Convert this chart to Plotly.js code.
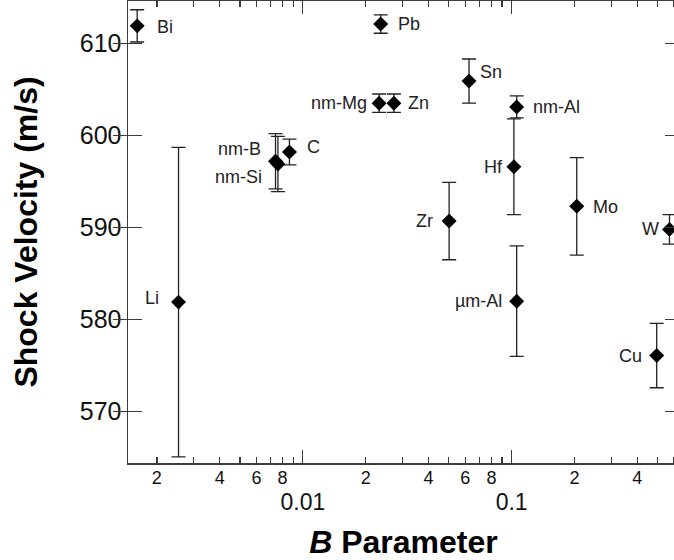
<!DOCTYPE html>
<html>
<head>
<meta charset="utf-8">
<script src="https://cdn.plot.ly/plotly-3.0.1.min.js"></script>
<style>
html,body{margin:0;padding:0;overflow:hidden;background:#fff;}
#chart{width:700px;height:560px;}
</style>
</head>
<body>
<div id="chart"></div>
<script>
// Data
const labels   = ['Bi','Li','nm-B','nm-Si','C','Pb','nm-Mg','Zn','Sn','nm-Al','Hf','Zr','Mo','W','µm-Al','Cu'];
const bParam   = [0.00161,0.00254,0.0074,0.0076,0.00863,0.0236,0.0232,0.0273,0.0625,0.1057,0.1025,0.0502,0.205,0.57,0.1057,0.495];
const velocity = [611.9,581.9,597.2,596.9,598.2,612.1,603.5,603.5,605.9,603.1,596.6,590.7,592.3,589.8,582.0,576.1];
const velErr   = [1.75,16.8,3.0,3.0,1.4,1.0,1.0,1.0,2.4,1.2,5.2,4.2,5.3,1.6,6.0,3.5];

const yTicks = [570,580,590,600,610];
const xMajorTicks = [0.01,0.1];
const xMajorText  = ['0.01','0.1'];
const xMinorTicks = [0.002,0.003,0.004,0.005,0.006,0.007,0.008,0.009,
                     0.02,0.03,0.04,0.05,0.06,0.07,0.08,0.09,
                     0.2,0.3,0.4,0.5,0.6];
const xMinorLabelVals = [0.002,0.004,0.006,0.008,0.02,0.04,0.06,0.08,0.2,0.4];
const xMinorLabelText = ['2','4','6','8','2','4','6','8','2','4'];

// label placement (styling): side, x shift px, y shift px
const labelPlace = {
  'Bi':['left',19,-1],'Li':['right',-19,4],'nm-B':['right',-14,12],'nm-Si':['right',-15,-13],
  'C':['left',17,5],'Pb':['left',16,0],'nm-Mg':['right',-11,0],'Zn':['left',13,0],
  'Sn':['left',10,9],'nm-Al':['left',15,0],'Hf':['right',-10,0],'Zr':['right',-15,0],
  'Mo':['left',15,-1],'W':['right',-9,0],'µm-Al':['right',-14,0],'Cu':['right',-14,0]
};

const FONT = 'Liberation Sans, Arial, sans-serif';
const axisColor = '#3a3a3a';

const trace = {
  x: bParam, y: velocity, type:'scatter', mode:'markers',
  marker:{symbol:'diamond', size:11.5, color:'#000'},
  error_y:{type:'data', array: velErr, visible:true, color:'#222', thickness:1.3, width:7},
  hoverinfo:'skip', showlegend:false
};
const dummy = {x:[], y:[], xaxis:'x2', yaxis:'y', type:'scatter', mode:'markers', showlegend:false};

const annotations = labels.map((t,i)=>{
  const p = labelPlace[t];
  return {x: Math.log10(bParam[i]), y: velocity[i], xref:'x', yref:'y', text:t, showarrow:false,
          xanchor:p[0], yanchor:'middle', xshift:p[1], yshift:p[2], borderpad:0,
          font:{family:FONT, size:18, color:'#222'}};
});

const xr = [Math.log10(0.001455), Math.log10(0.633)];

const layout = {
  width:700, height:560,
  margin:{l:128, r:21, t:1, b:97},
  paper_bgcolor:'#fff', plot_bgcolor:'#fff',
  font:{family:FONT, color:'#111'},
  xaxis:{
    type:'log', range:xr, showgrid:false, zeroline:false,
    showline:true, linecolor:axisColor, linewidth:1.5, mirror:'allticks',
    ticks:'inside', ticklen:13, tickwidth:1.3, tickcolor:axisColor,
    tickmode:'array', tickvals:xMajorTicks, ticktext:xMajorText,
    tickfont:{family:FONT, size:23, color:'#111'}, ticklabelstandoff:18,
    minor:{tickmode:'array', tickvals:xMinorTicks, ticks:'inside', ticklen:6, tickwidth:1.3, tickcolor:axisColor, showgrid:false},
    title:{text:'<b><i>B</i> Parameter</b>', font:{family:FONT, size:32, color:'#000'}, standoff:16}
  },
  xaxis2:{
    type:'log', range:xr, overlaying:'x', anchor:'y', side:'bottom',
    showgrid:false, zeroline:false, showline:false, ticks:'',
    tickmode:'array', tickvals:xMinorLabelVals, ticktext:xMinorLabelText,
    tickfont:{family:FONT, size:18, color:'#111'}, ticklabelstandoff:2
  },
  yaxis:{
    range:[564.43,614.6], showgrid:false, zeroline:false,
    showline:true, linecolor:axisColor, linewidth:1.5, mirror:'allticks',
    ticks:'inside', ticklen:14, tickwidth:1.3, tickcolor:axisColor,
    tickmode:'array', tickvals:yTicks,
    tickfont:{family:FONT, size:25, color:'#111'},
    title:{text:'<b>Shock Velocity (m/s)</b>', font:{family:FONT, size:32, color:'#000'}, standoff:32}
  },
  annotations: annotations
};

Plotly.newPlot('chart', [trace, dummy], layout, {staticPlot:true, displayModeBar:false});
</script>
</body>
</html>
